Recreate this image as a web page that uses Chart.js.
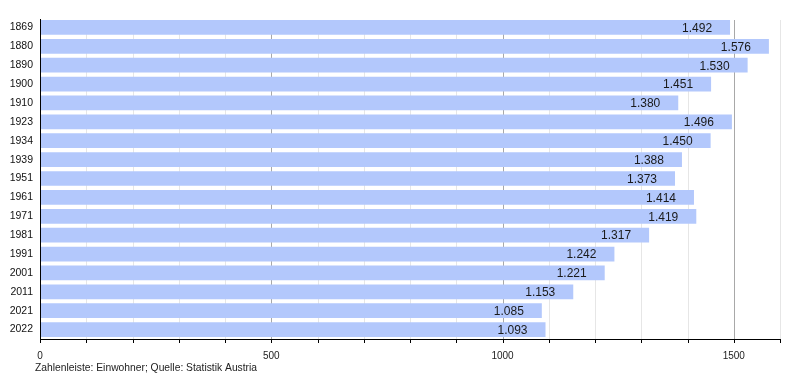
<!DOCTYPE html>
<html><head><meta charset="utf-8">
<script src="https://cdn.jsdelivr.net/npm/chart.js@4/dist/chart.umd.min.js"></script>
<style>html,body{margin:0;padding:0;background:#fff}#wrap{width:800px;height:380px}</style>
</head><body><div id="wrap"><canvas id="c" width="800" height="380"></canvas></div>
<script>
const years = ['1869','1880','1890','1900','1910','1923','1934','1939','1951','1961','1971','1981','1991','2001','2011','2021','2022'];
const population = [1492,1576,1530,1451,1380,1496,1450,1388,1373,1414,1419,1317,1242,1221,1153,1085,1093];
const xTickLabels = [0,500,1000,1500];
const footerText = 'Zahlenleiste: Einwohner; Quelle: Statistik Austria';
const FONT = '"Liberation Sans", Arial, sans-serif';

const fmt = v => { const s = String(v); return s.length > 3 ? s.slice(0, s.length-3) + '.' + s.slice(-3) : s; };

const extras = {
  id: 'extras',
  beforeDatasetsDraw(chart) {
    const ctx = chart.ctx;
    const a = chart.chartArea;
    const xs = chart.scales.x;
    const first = chart.getDatasetMeta(0).data[0];
    const top = Math.round(first.y - first.height / 2);
    const bottom = Math.round(a.bottom);
    ctx.save();
    ctx.lineWidth = 1;
    xs.ticks.forEach(t => {
      const px = Math.round(xs.getPixelForValue(t.value)) + 0.5;
      ctx.strokeStyle = (t.value % 500 === 0) ? '#a8a8a8' : '#e6e6e6';
      ctx.beginPath();
      ctx.moveTo(px, top);
      ctx.lineTo(px, bottom);
      ctx.stroke();
      ctx.strokeStyle = '#000';
      ctx.beginPath();
      ctx.moveTo(px, bottom);
      ctx.lineTo(px, bottom + 4);
      ctx.stroke();
    });
    ctx.restore();
  },
  afterDatasetsDraw(chart) {
    const ctx = chart.ctx;
    const meta = chart.getDatasetMeta(0);
    const a = chart.chartArea;
    ctx.save();
    ctx.strokeStyle = '#000';
    ctx.lineWidth = 1;
    ctx.beginPath();
    ctx.moveTo(Math.round(a.left) + 0.5, Math.round(a.top) + 1);
    ctx.lineTo(Math.round(a.left) + 0.5, Math.round(a.bottom) + 0.5);
    ctx.lineTo(Math.round(a.right) + 1, Math.round(a.bottom) + 0.5);
    ctx.stroke();
    ctx.font = '12px ' + FONT;
    ctx.fillStyle = '#1a1a1a';
    ctx.textAlign = 'right';
    ctx.textBaseline = 'middle';
    meta.data.forEach((bar, i) => {
      ctx.fillText(fmt(population[i]), bar.x - 18, bar.y + 1);
    });
    ctx.restore();
  },
  afterDraw(chart) {
    const ctx = chart.ctx;
    ctx.save();
    ctx.font = '10.3px ' + FONT;
    ctx.fillStyle = '#222';
    ctx.textAlign = 'left';
    ctx.textBaseline = 'middle';
    ctx.fillText(footerText, 35, 368);
    ctx.restore();
  }
};

new Chart(document.getElementById('c'), {
  type: 'bar',
  data: {
    labels: years,
    datasets: [{
      data: population,
      backgroundColor: 'rgb(179,200,252)',
      borderWidth: 0,
      inflateAmount: 0,
      barPercentage: 0.78,
      categoryPercentage: 1.0
    }]
  },
  options: {
    indexAxis: 'y',
    responsive: false,
    animation: false,
    devicePixelRatio: 1,
    layout: { padding: { top: 18, right: 20, bottom: 0, left: 0 } },
    plugins: { legend: { display: false }, tooltip: { enabled: false }, title: { display: false } },
    scales: {
      x: {
        min: 0, max: 1600,
        afterFit(s) { s.height = 41; },
        ticks: {
          stepSize: 100,
          autoSkip: false,
          maxRotation: 0,
          padding: 3,
          color: '#222',
          font: { family: FONT, size: 10 },
          callback: v => xTickLabels.includes(v) ? String(v) : ''
        },
        grid: { display: false },
        border: { display: false }
      },
      y: {
        afterFit(s) { s.width = 40; },
        ticks: {
          padding: 7,
          color: '#111',
          font: { family: FONT, size: 10.5 }
        },
        grid: { display: false, drawTicks: false },
        border: { display: false }
      }
    }
  },
  plugins: [extras]
});
</script>
</body></html>
